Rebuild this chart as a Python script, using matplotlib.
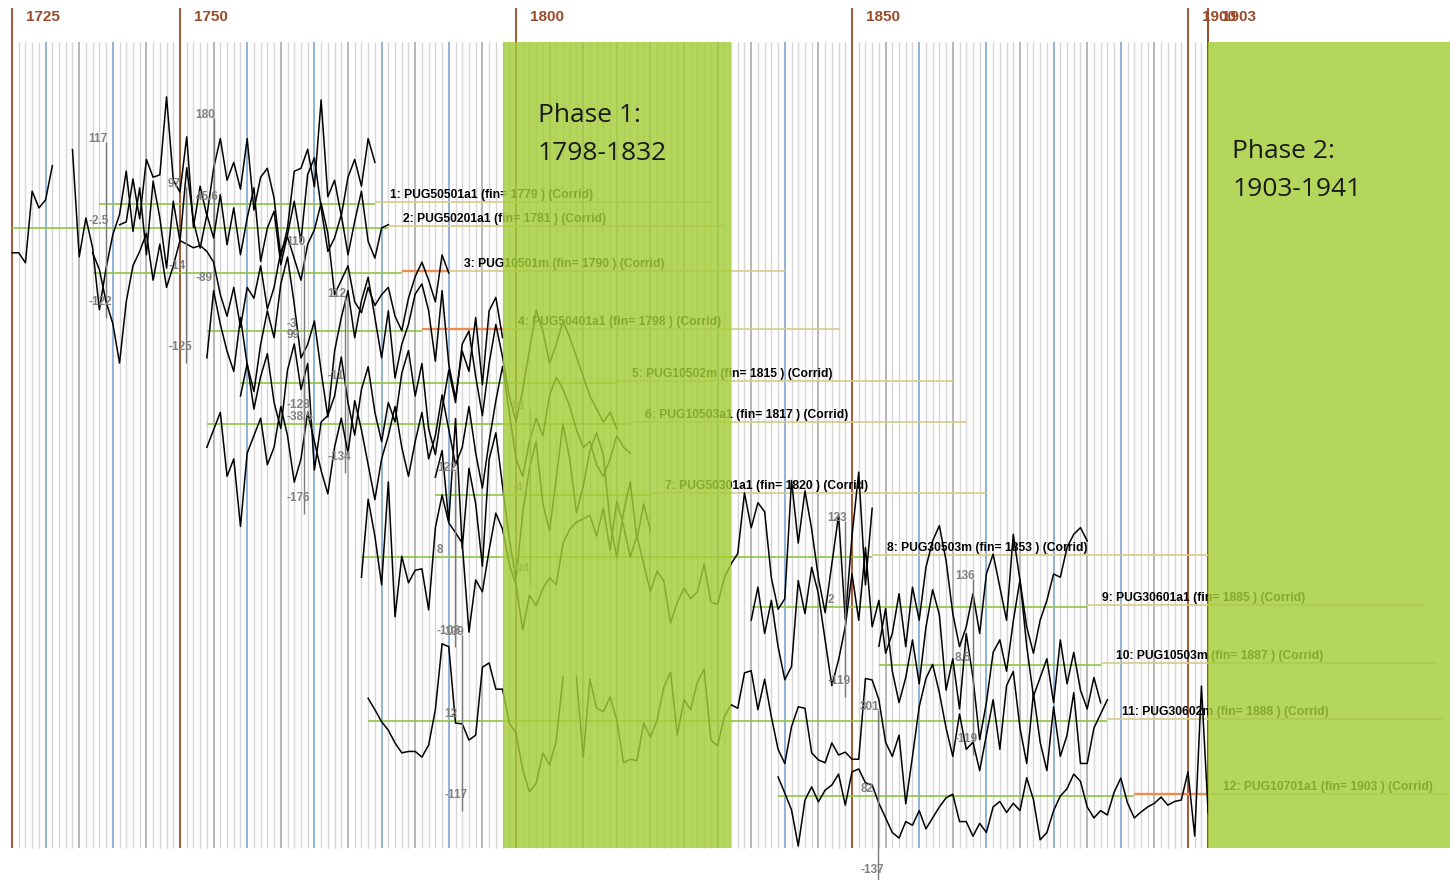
import numpy as np
import matplotlib
matplotlib.use("Agg")
import matplotlib.pyplot as plt
from matplotlib.patches import Rectangle

nan = np.nan

# ---- chronology metadata ----
codes = ["PUG50501a1", "PUG50201a1", "PUG10501m", "PUG50401a1", "PUG10502m",
         "PUG10503a1", "PUG50301a1", "PUG30503m", "PUG30601a1", "PUG10503m",
         "PUG30602m", "PUG10701a1"]
start_years = [1738, 1725, 1737, 1754, 1759, 1754, 1788, 1777, 1835, 1854, 1778, 1839]
fin_years = [1779, 1781, 1790, 1798, 1815, 1817, 1820, 1853, 1885, 1887, 1888, 1903]
mean_labels = ["45.6", "-2.5", "-14", "-3", "-11", "-38.5", "-4", "8", "2", "8.5", "12", "82"]
flag_from = [None, None, 1783, 1786, None, None, None, None, None, None, None, 1892]

# ---- yearly index values, one list per chronology ----
s1 = [nan, nan, nan, -35, -30, 42, -25, 75, 45, 49, 180, 40, 20, 113, -39, 30, -20, 60,
      110, 40, 70, 25, 110, -10, 45, 60, 10, -89, -40, 55, 60, 92, 29, 175, 12, 40,
      -20, 45, 75, 30, 110, 70]
s2 = [-37, -37, -52, 55, 30, 42, 93, nan, nan, 117, -43, 15, -30, -122, -60, -10, 20, 85,
      -5, 60, -40, 70, 15, -60, 40, -20, 90, 10, -30, 20, -15, 50, -25, 30, -40, 15, 60,
      -50, 0, 25, -55, -10, 40, -20, 80, 105, 30, -35, -15, 20, -40, 10, 55, -20, -45, 0, 5]
s3 = [28, 5, -40, -70, -125, -40, 10, 30, 55, -10, 40, -20, 10, 45, 40, 35, 38, 30, 15,
      -30, -60, -20, -75, -20, -35, 10, -50, -20, 30, 50, 20, -10, 40, 60, 97, 55, -30,
      -10, 10, -40, -55, -20, -45, -30, -20, -60, -80, -35, -5, 15, -10, -40, 25, 0]
s4 = [-40, 60, 10, -30, -60, 20, -50, -90, -20, 30, -10, 70, 110, 40, -40, -20, 15, -60,
      -128, -30, 20, 60, -10, 45, 80, 20, -40, 30, -70, -20, 10, 55, 70, 30, -45, 60, -50,
      -100, -30, -60, 20, -80, 30, 50, -10]
s5 = [-20, 30, -40, 10, 45, -30, -70, 20, 60, -10, 30, -134, -60, -50, -20, 40, -30, -80,
      -10, 25, -45, -90, -30, -60, 15, 50, -20, 30, -70, -110, -40, 20, -30, 60, 80, 10,
      -50, 30, 90, 40, -20, -60, -10, 50, 112, 80, 30, 60, 95, 70, 40, 10, -20, -40, -60,
      -45, -70]
s6 = [-40, -10, 20, -90, -60, -176, -50, -20, 10, -70, -40, 30, -20, -100, -60, 20, -30,
      -80, -120, -40, 10, -50, 40, -10, -70, -130, -60, -20, 30, -40, -90, -30, 20, -60,
      -20, 50, -10, -70, -40, 30, -50, -110, -30, 40, 99, 20, -60, -90, -30, 10, -20, 50,
      80, 60, 30, -10, -40, -30, -70, -90, -60, -20, -40, -50]
s7 = [20, 50, -30, 86, -60, 30, -10, -80, 40, 70, 10, -50, -94, -20, 30, 60, -10, -40, 20,
      80, 40, -20, 10, 50, 70, 45, -30, -70, -20, 15, -50, -10, -40]
s8 = [-29, 83, 30, -40, 108, -86, 1, -37, -19, -17, -76, 42, 89, 49, 35, 20, -108, -33,
      -50, 10, 63, 40, -10, -40, -105, -55, -70, -45, -30, -40, 20, 40, 50, 55, 60, 30, 70,
      10, 80, 45, 0, 30, -10, -50, -20, -35, -95, -65, -45, -60, -50, -10, -65, -68, -30,
      -10, 5, 92, 42, 78, 65, -30, -75, -60, 110, 20, 95, 40, -30, -80, -10, 60, -90, 30,
      122, -40, 70]
s9 = [-20, 30, -40, 10, -60, -110, -90, 40, -10, 60, 20, -50, -119, -80, -30, 50, -20, 90,
      -30, 10, -70, -40, 20, -60, 30, -20, 60, 100, 123, 70, -10, -60, -30, 20, -40, 50,
      80, 30, -20, 110, 40, -30, -70, -20, 10, 50, 45, 90, 110, 120, 100]
s10 = [30, 90, -10, -60, -20, 40, -30, 60, 120, 80, -40, 10, -70, 50, -20, -119, -60, 20,
       40, -10, 70, 136, 30, -50, -20, 10, -60, 40, -30, 20, -40, -70, -20, -60]
s11 = [32, 16, -1, -13, -31, -45, -43, -43, -51, -34,
       16, 109, 105, -3, -4, -27, -20, 76, 82, 45,
       45, -3, -17, -69, -100, -88, -45, -62, -27, 62,
       nan, 62, -51, 59, 18, 13, 34, 1, -59, -54,
       -56, -3, -23, 1, 48, 69, -20, 30, 16, 55,
       73, -27, -35, 6, 23, 18, 68, 71, 16, 59,
       6, -40, -60, -8, 20, 18, -45, -55, -59, -31,
       -48, -44, -54, -54, 60, 58, 30, -30, -50, -20,
       -117, -50, 20, 60, 80, 40, -10, -50, 10, -40,
       -30, -70, -20, 30, -40, 50, 70, -10, -60, 40,
       -30, -70, 20, -50, -20, 40, -60, -60, -10, 10,
       30]
s12 = [52, 8, -38, -137, -11, 25, -16, 16, 30, 60,
       -25, 66, 74, 36, 30, -20, -60, -100, -115, -70,
       -80, -40, -90, -60, -30, -5, 5, -70, -70, -110,
       -75, -100, -30, -15, -45, -20, -40, 50, -10, -120,
       -100, -40, 0, 20, 60, 40, -30, -60, -40, -52,
       10, 49, -19, -60, -44, -30, -20, -3, -25, -15,
       -11, 66, -110, 301, -47]
series = [s1, s2, s3, s4, s5, s6, s7, s8, s9, s10, s11, s12]

phases = [("Phase 1:", 1798, 1832), ("Phase 2:", 1903, 1941)]
decade_marks = [1725, 1750, 1800, 1850, 1900, 1903]

# ---- layout (pixel-based lane positions) ----
W, H = 1450, 880
PX_YR = 6.72
X_LEFT = 1725 - 12 / PX_YR
lanes = [204, 228, 273, 331, 383, 424, 495, 557, 607, 665, 721, 796]
stat_x = [1755.0, 1739.0, 1750.9, 1768.5, 1774.6, 1768.5, 1802.1, 1790.9, 1849.0,
          1868.0, 1792.0, 1853.9]
LANE_SPAN = 160.0
GRID_TOP, GRID_BOT = 42, 848

BROWN = "#9c4a2a"
GREEN_LINE = "#8dc63f"
TAN = "#d8c98a"
ORANGE = "#ef8b4d"
PHASE_FILL = "#a5cd38"

fig = plt.figure(figsize=(W / 100, H / 100), dpi=100)
ax = fig.add_axes([0, 0, 1, 1])
ax.set_xlim(X_LEFT, X_LEFT + W / PX_YR)
ax.set_ylim(H, 0)
ax.axis("off")

# yearly grid
for yr in range(1725, 1904):
    if yr in decade_marks:
        ax.vlines(yr, 8, GRID_BOT, color=BROWN, lw=1.3, zorder=1)
    elif yr % 10 == 0:
        ax.vlines(yr, GRID_TOP, GRID_BOT, color="#7ea6cf", lw=1.2, zorder=1)
    elif yr % 5 == 0:
        ax.vlines(yr, GRID_TOP, GRID_BOT, color="#a3a3a3", lw=1.1, zorder=1)
    else:
        ax.vlines(yr, GRID_TOP, GRID_BOT, color="#d6d6d6", lw=1.0, zorder=1)
ax.vlines(1903, 8, GRID_BOT, color=BROWN, lw=1.3, zorder=1)

for yr in decade_marks:
    ax.annotate(str(yr), xy=(yr, 17), xytext=(14, 0), textcoords="offset pixels",
                ha="left", va="center", fontsize=11, fontweight="bold",
                color=BROWN, family="Liberation Sans", zorder=7)

for i, vals in enumerate(series):
    vals = np.asarray(vals, dtype=float)
    base = lanes[i]
    yrs = np.arange(start_years[i], start_years[i] + len(vals))
    vmax, vmin = np.nanmax(vals), np.nanmin(vals)
    k = LANE_SPAN / (vmax - vmin)
    fin = fin_years[i]
    green_end = flag_from[i] if flag_from[i] is not None else fin
    ax.hlines(base, start_years[i], green_end, color=GREEN_LINE, lw=1.2, zorder=2)
    if flag_from[i] is not None:
        ax.hlines(base - 1.5, flag_from[i], fin, color=ORANGE, lw=1.7, zorder=2)
    ax.hlines(base - 1.5, fin, fin + 50, color=TAN, lw=1.2, zorder=2)

    ax.plot(yrs, base - vals * k, color="black", lw=1.1, zorder=3)

    # range marker with max / mean / min annotations
    ax.vlines(stat_x[i], base - 86, base + 90, color="#7a7a7a", lw=1.0, zorder=3)
    for txt, dy in ((f"{vmax:g}", -89), (mean_labels[i], -7), (f"{vmin:g}", 74)):
        ax.annotate(txt, xy=(stat_x[i], base + dy), xytext=(-18, 0),
                    textcoords="offset pixels", ha="left", va="center",
                    fontsize=8.5, fontweight="bold", color="#808080",
                    family="Liberation Sans", zorder=4)

    ax.annotate(f"{i + 1}: {codes[i]} (fin= {fin} ) (Corrid)", xy=(fin, base),
                xytext=(15, 9), textcoords="offset pixels", ha="left", va="center",
                fontsize=8.7, fontweight="bold", color="black",
                family="Liberation Sans", zorder=4)

# phase bands
phase_text_y = [115, 152]
phase_text_dx = [35, 24]
for (name, a, b), ty, dx in zip(phases, phase_text_y, phase_text_dx):
    ax.add_patch(Rectangle((a, GRID_TOP), b - a, GRID_BOT - GRID_TOP,
                           facecolor=PHASE_FILL, edgecolor="none", alpha=0.82, zorder=5))
    ax.annotate(name, xy=(a, ty), xytext=(dx, 0), textcoords="offset pixels",
                ha="left", va="center", fontsize=19, color="#1a1a1a",
                family="Open Sans", zorder=6)
    ax.annotate(f"{a}-{b}", xy=(a, ty + 38), xytext=(dx, 0), textcoords="offset pixels",
                ha="left", va="center", fontsize=19, color="#1a1a1a",
                family="Open Sans", zorder=6)

fig.savefig("out.png", dpi=100)
